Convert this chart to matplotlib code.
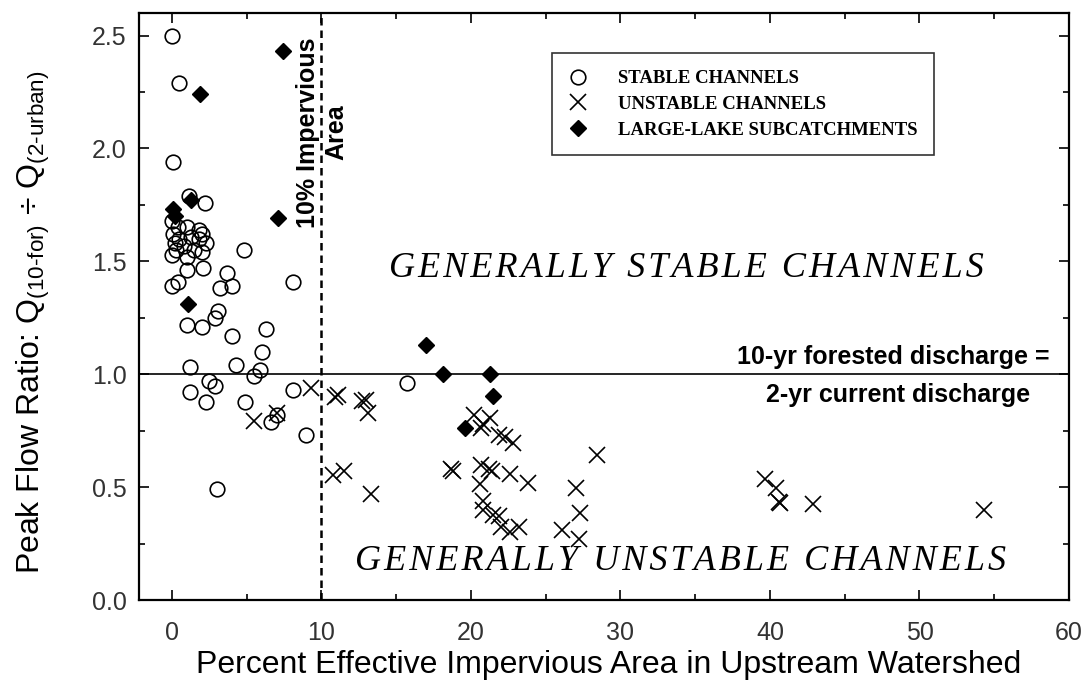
import numpy as np
from matplotlib import pyplot as plt
from matplotlib.ticker import MultipleLocator

plt.rcParams['font.family'] = ['Liberation Sans', 'DejaVu Sans']
plt.rcParams['mathtext.fontset'] = 'custom'
plt.rcParams['mathtext.rm'] = 'Liberation Sans'
plt.rcParams['mathtext.it'] = 'Liberation Sans'

# stable channels (open circles)
stable_x = [0.0, 0.5, 0.1, 1.16, 2.2, 4.8, 8.1,
            0.0, 0.1, 0.2, 0.3, 0.0, 0.5, 0.8, 1.0, 1.3, 1.5, 1.8, 2.0, 2.3, 0.4, 1.0, 1.8, 2.0,
            2.1, 1.0, 0.0, 0.4, 3.7, 3.2, 4.0, 3.1, 2.9, 1.0, 2.0, 6.3, 4.0, 6.0, 1.2, 4.3,
            5.5, 5.9, 2.5, 2.9, 1.2, 2.3, 4.9, 8.1, 6.6, 7.0, 9.0, 3.0, 15.7]
stable_y = [2.50, 2.29, 1.94, 1.79, 1.76, 1.55, 1.41,
            1.68, 1.62, 1.58, 1.55, 1.53, 1.60, 1.57, 1.52, 1.61, 1.55, 1.60, 1.54, 1.58, 1.65, 1.65, 1.64, 1.62,
            1.47, 1.46, 1.39, 1.41, 1.45, 1.38, 1.39, 1.28, 1.25, 1.22, 1.21, 1.20, 1.17, 1.10, 1.03, 1.04,
            0.99, 1.02, 0.97, 0.95, 0.92, 0.875, 0.875, 0.93, 0.79, 0.82, 0.73, 0.49, 0.96]

# unstable channels (crosses)
unstable_x = [5.5, 7.0, 9.3, 10.9, 11.1, 12.7, 13.0, 13.1, 10.8, 11.5, 13.3, 18.8, 18.7,
              20.2, 20.8, 21.3, 20.7, 21.9, 22.3, 22.8, 20.7, 21.2, 21.4, 22.6, 20.6, 23.8,
              20.8, 20.8, 21.5, 21.9, 22.0, 22.6, 23.2, 26.1, 27.0, 27.3, 27.2, 28.4,
              39.7, 40.4, 40.6, 40.7, 42.9, 54.3]
unstable_y = [0.795, 0.83, 0.94, 0.90, 0.91, 0.88, 0.886, 0.83, 0.554, 0.57, 0.47, 0.57, 0.58,
              0.82, 0.78, 0.805, 0.76, 0.73, 0.72, 0.695, 0.60, 0.58, 0.57, 0.56, 0.515, 0.517,
              0.44, 0.40, 0.377, 0.37, 0.325, 0.30, 0.325, 0.31, 0.495, 0.387, 0.27, 0.643,
              0.535, 0.495, 0.436, 0.43, 0.425, 0.40]

# large-lake subcatchments (filled diamonds)
lake_x = [7.4, 1.9, 7.1, 1.3, 0.1, 0.2, 1.1, 17.0, 18.1, 21.3, 21.5, 19.6]
lake_y = [2.43, 2.24, 1.69, 1.77, 1.73, 1.70, 1.31, 1.13, 1.00, 1.00, 0.905, 0.76]


def spaced(s):
    # a little letter spacing, like the typeset original
    return '\u200a'.join(s)


fig = plt.figure(figsize=(10.86, 6.85), dpi=100)
ax = fig.add_axes([139 / 1086, 85 / 685, 930 / 1086, 587 / 685])

ax.plot(stable_x, stable_y, 'o', mfc='none', mec='black', ms=10.5, mew=1.2, label='STABLE CHANNELS')
ax.plot(unstable_x, unstable_y, 'x', color='black', ms=11, mew=1.2, label='UNSTABLE CHANNELS')
ax.plot(lake_x, lake_y, 'D', color='black', ms=8, label='LARGE-LAKE SUBCATCHMENTS')

ax.axhline(1.0, color='black', lw=1.2)
ax.axvline(10, color='black', lw=1.8, ls=(0, (3, 2)))

ax.set_xlim(-2.2, 60)
ax.set_ylim(0, 2.6)
ax.xaxis.set_major_locator(MultipleLocator(10))
ax.xaxis.set_minor_locator(MultipleLocator(5))
ax.yaxis.set_major_locator(MultipleLocator(0.5))
ax.yaxis.set_minor_locator(MultipleLocator(0.25))
ax.yaxis.set_major_formatter(lambda v, p: '{:.1f}'.format(v))
ax.tick_params(which='both', direction='in', top=True, right=True, width=1.2,
               labelsize=18, labelcolor='#333333')
ax.tick_params(axis='x', pad=15)
ax.tick_params(axis='y', pad=9)
ax.tick_params(which='major', length=7)
ax.tick_params(which='minor', length=4)
for s in ax.spines.values():
    s.set_linewidth(1.6)

leg = ax.legend(loc='upper left', bbox_to_anchor=(0.434, 0.947), frameon=True, fancybox=False,
                edgecolor='black', prop={'family': 'Liberation Serif', 'weight': 'bold', 'size': 13.5},
                handletextpad=1.6, borderpad=0.9, labelspacing=0.45, handlelength=1.0)
leg.get_frame().set_linewidth(1.2)

ax.text(10.05, 2.07, '10% Impervious\nArea', rotation=90, ha='center', va='center',
        fontsize=18, fontweight='bold', linespacing=1.2)

ax.text(34.4, 1.47, spaced('GENERALLY STABLE CHANNELS'), family='Liberation Serif', style='italic',
        fontsize=26, ha='center', va='center')
ax.text(34.0, 0.17, spaced('GENERALLY UNSTABLE CHANNELS'), family='Liberation Serif', style='italic',
        fontsize=26, ha='center', va='center')

ax.text(58.7, 1.025, '10-yr forested discharge =', fontsize=18, fontweight='bold', ha='right', va='bottom')
ax.text(57.4, 0.96, '2-yr current discharge', fontsize=18, fontweight='bold', ha='right', va='top')

fig.text(609 / 1086, 1 - 665 / 685, 'Percent Effective Impervious Area in Upstream Watershed',
         fontsize=23, ha='center', va='center')
fig.text(33 / 1086, 1 - 322 / 685,
         r'Peak Flow Ratio: Q$_{\text{(10-for)}}$ ÷ Q$_{\text{(2-urban)}}$',
         fontsize=23, rotation=90, ha='center', va='center')

fig.savefig('out.png', dpi=100)
